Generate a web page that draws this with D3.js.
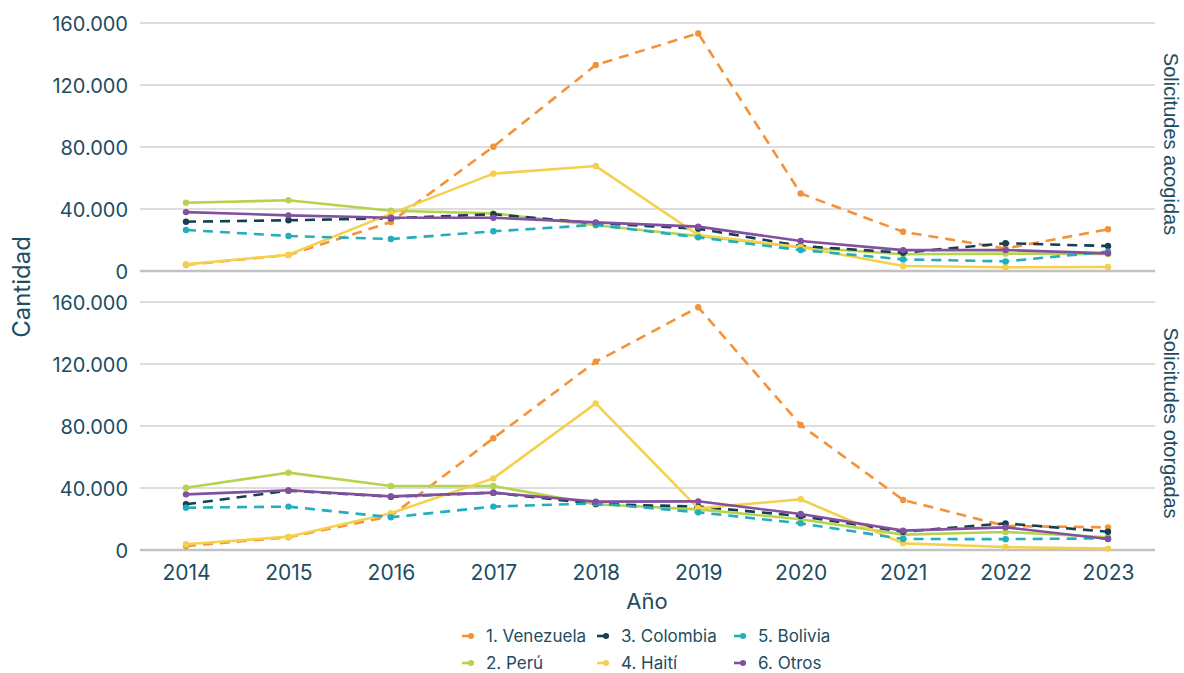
<!DOCTYPE html>
<html>
<head>
<meta charset="utf-8">
<script src="https://cdn.jsdelivr.net/npm/d3@7"></script>
<style>
  body { margin: 0; background: #fff; }
  svg { display: block; }
</style>
</head>
<body>
<div id="my_dataviz"></div>
<script>
// years on the x axis
var years = [2014, 2015, 2016, 2017, 2018, 2019, 2020, 2021, 2022, 2023];
var yTicks = [0, 40000, 80000, 120000, 160000];
var seriesNames = ["1. Venezuela", "2. Perú", "3. Colombia", "4. Haití", "5. Bolivia", "6. Otros"];
var panelNames = ["Solicitudes acogidas", "Solicitudes otorgadas"];

// Solicitudes acogidas (top panel)
var acogVenezuela = [4000, 10300, 31600, 80200, 132900, 153300, 50000, 25300, 14500, 26900];
var acogPeru      = [44000, 45600, 38900, 37200, 29500, 22600, 15300, 10800, 11200, 11000];
var acogColombia  = [31800, 32700, 34000, 36600, 30800, 27300, 16100, 11800, 17900, 16100];
var acogHaiti     = [4300, 10500, 37000, 62800, 67700, 23200, 15500, 3200, 2400, 2600];
var acogBolivia   = [26500, 22600, 20600, 25600, 29700, 21700, 13500, 7500, 6200, 12500];
var acogOtros     = [38000, 35900, 34400, 34400, 31400, 28600, 19400, 13500, 13500, 11400];

// Solicitudes otorgadas (bottom panel)
var otorVenezuela = [2600, 8200, 21900, 72100, 121500, 156600, 80600, 32300, 15500, 14600];
var otorPeru      = [40200, 49900, 41300, 41300, 29500, 26200, 19800, 9900, 11600, 8200];
var otorColombia  = [29500, 38300, 34400, 37000, 29700, 28000, 21900, 11800, 17200, 11800];
var otorHaiti     = [3700, 8600, 23700, 46200, 94600, 26900, 32700, 4300, 1900, 900];
var otorBolivia   = [27300, 28000, 21100, 28000, 30100, 24300, 17200, 7100, 7000, 7500];
var otorOtros     = [35900, 38500, 34600, 37000, 31200, 31400, 23200, 12500, 14600, 7100];

var colors = ["#f39237", "#b5d34f", "#173f50", "#f5d04c", "#23aebd", "#8150a0"];
var dashed = [true, false, true, false, true, false];
var textColor = "#1d4d62";
var fontTicks = "Inter, 'Noto Sans', sans-serif";

var panels = [
    [acogVenezuela, acogPeru, acogColombia, acogHaiti, acogBolivia, acogOtros],
    [otorVenezuela, otorPeru, otorColombia, otorHaiti, otorBolivia, otorOtros]
];

var width = 1184, height = 673;
var svg = d3.select("#my_dataviz")
    .append("svg")
        .attr("width", width)
        .attr("height", height);

var x = d3.scalePoint()
    .domain(years)
    .range([186, 1108]);

var gridLeft = 140, gridRight = 1155;
var panelTops = [23, 302];
var panelH = 248;

panels.forEach(function(panel, p) {
    var y = d3.scaleLinear()
        .domain([0, 160000])
        .range([panelTops[p] + panelH, panelTops[p]]);

    var g = svg.append("g");

    // gridlines
    g.selectAll("line.grid")
        .data(yTicks)
        .enter().append("line")
            .attr("x1", gridLeft)
            .attr("x2", gridRight)
            .attr("y1", function(d) { return y(d); })
            .attr("y2", function(d) { return y(d); })
            .attr("stroke", function(d) { return d == 0 ? "#c2c2c2" : "#d2d2d2"; })
            .attr("stroke-width", function(d) { return d == 0 ? 2.5 : 1.3; });

    // y axis labels
    var yAxis = d3.axisLeft(y)
        .tickValues(yTicks)
        .tickSize(0)
        .tickPadding(0)
        .tickFormat(function(d) { return d3.format(",")(d).replace(/,/g, "."); });
    var ya = g.append("g")
        .attr("transform", "translate(128,0)")
        .call(yAxis);
    ya.select(".domain").remove();
    ya.selectAll("text")
        .attr("fill", textColor)
        .attr("dy", "0.35em")
        .style("font-family", fontTicks)
        .style("font-size", "20px");

    // lines
    var line = d3.line()
        .x(function(d, i) { return x(years[i]); })
        .y(function(d) { return y(d); });

    panel.forEach(function(vals, s) {
        g.append("path")
            .datum(vals)
            .attr("d", line)
            .attr("fill", "none")
            .attr("stroke", colors[s])
            .attr("stroke-width", 2.6)
            .attr("stroke-dasharray", dashed[s] ? "10,7" : null);
        g.selectAll("circle.s" + s)
            .data(vals)
            .enter().append("circle")
                .attr("cx", function(d, i) { return x(years[i]); })
                .attr("cy", function(d) { return y(d); })
                .attr("r", 3.2)
                .attr("fill", colors[s]);
    });

    // facet label on the right
    g.append("text")
        .attr("transform", "translate(1164," + (panelTops[p] + panelH / 2 - 3) + ") rotate(90)")
        .attr("text-anchor", "middle")
        .attr("fill", textColor)
        .style("font-family", "'Liberation Sans', Arial, sans-serif")
        .style("font-size", "20px")
        .text(panelNames[p]);
});

// x axis
var xAxis = d3.axisBottom(x).tickSize(0).tickPadding(0);
var xa = svg.append("g")
    .attr("transform", "translate(0,565)")
    .call(xAxis);
xa.select(".domain").remove();
xa.selectAll("text")
    .attr("fill", textColor)
    .attr("dy", "0.71em")
    .style("font-family", fontTicks)
    .style("font-size", "21px");

svg.append("text")
    .attr("x", 647)
    .attr("y", 609)
    .attr("text-anchor", "middle")
    .attr("fill", textColor)
    .style("font-family", fontTicks)
    .style("font-size", "22px")
    .text("Año");

svg.append("text")
    .attr("transform", "translate(30,287) rotate(-90)")
    .attr("text-anchor", "middle")
    .attr("fill", textColor)
    .style("font-family", fontTicks)
    .style("font-size", "24px")
    .text("Cantidad");

// legend, filled column by column
var legX = [462, 597, 734];
var legY = [636, 663];
var leg = svg.append("g");
seriesNames.forEach(function(name, i) {
    var col = Math.floor(i / 2), row = i % 2;
    var lg = leg.append("g")
        .attr("transform", "translate(" + legX[col] + "," + legY[row] + ")");
    lg.append("line")
        .attr("x1", 0).attr("x2", 12)
        .attr("y1", 0).attr("y2", 0)
        .attr("stroke", colors[i])
        .attr("stroke-width", 2.6);
    lg.append("circle")
        .attr("cx", 9).attr("cy", 0).attr("r", 3)
        .attr("fill", colors[i]);
    lg.append("text")
        .attr("x", 24)
        .attr("y", 0)
        .attr("dy", "0.35em")
        .attr("fill", textColor)
        .style("font-family", fontTicks)
        .style("font-size", "17px")
        .text(name);
});
</script>
</body>
</html>
